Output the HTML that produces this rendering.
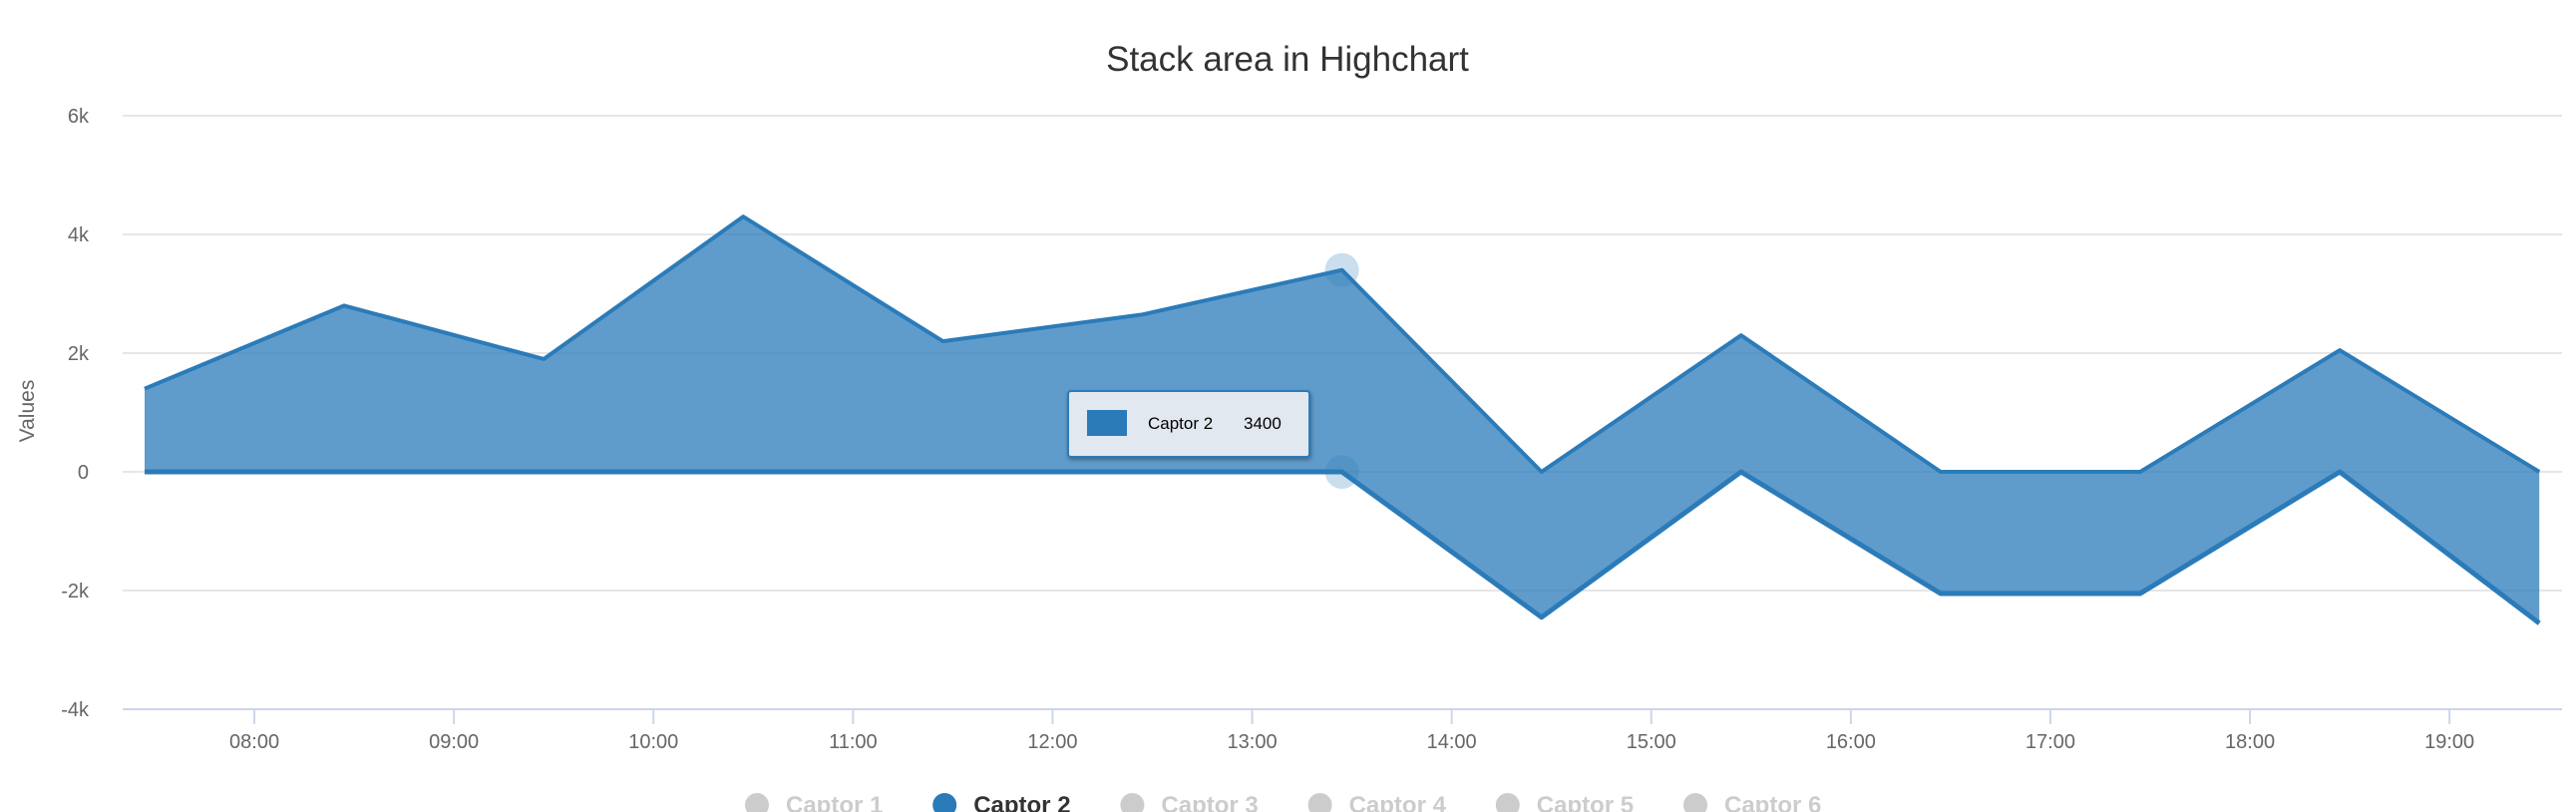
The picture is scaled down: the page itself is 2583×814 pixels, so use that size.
<!DOCTYPE html>
<html><head><meta charset="utf-8"><style>
html,body{margin:0;padding:0;background:#fff;}
svg{display:block;font-family:"Liberation Sans",sans-serif;}
</style></head><body>
<svg id="chart" width="2583" height="814" viewBox="0 0 2583 814">
<text x="1291" y="71" text-anchor="middle" font-size="35" fill="#333">Stack area in Highchart</text>
<g id="grid"></g>
<g id="yticks"></g>
<g id="xticks"></g>
<text transform="translate(34,412) rotate(-90)" text-anchor="middle" font-size="21" fill="#666">Values</text>
<g id="series"></g>
<g id="tooltip">
<rect x="1071" y="392" width="242" height="66" rx="3" fill="#e2e8ef" stroke="#2b7bb9" stroke-width="2" style="filter:drop-shadow(1px 2px 2px rgba(0,0,0,0.35))"/>
<rect x="1090" y="411" width="40" height="26" fill="#2b7bb9"/>
<text x="1151" y="430" font-size="17" fill="#000">Captor 2</text>
<text x="1247" y="430" font-size="17" fill="#000">3400</text>
</g>
<g id="legend"></g>
</svg>
<script>
const categories = [7.45,8.45,9.45,10.45,11.45,12.45,13.45,14.45,15.45,16.45,17.45,18.45,19.45];
const captor2 = [1400,2800,1900,4300,2200,2650,3400,-2450,2300,-2050,-2050,2050,-2550];
const yTicks = [-4000,-2000,0,2000,4000,6000];
const yTickLabels = ["-4k","-2k","0","2k","4k","6k"];
const xTicks = [8,9,10,11,12,13,14,15,16,17,18,19];
const xTickLabels = ["08:00","09:00","10:00","11:00","12:00","13:00","14:00","15:00","16:00","17:00","18:00","19:00"];
const legendNames = ["Captor 1","Captor 2","Captor 3","Captor 4","Captor 5","Captor 6"];
const legendVisible = [false,true,false,false,false,false];
const hoverIndex = 6;

const NS="http://www.w3.org/2000/svg";
const L=123,R=2569;
function xs(h){return 145+(h-7.45)*200.1;}
function ys(v){return 473-v*0.0595;}
function mk(tag,attrs,parent,text){const e=document.createElementNS(NS,tag);for(const k in attrs)e.setAttribute(k,attrs[k]);if(text!==undefined)e.textContent=text;parent.appendChild(e);return e;}

const grid=document.getElementById('grid'),yt=document.getElementById('yticks'),xt=document.getElementById('xticks');
yTicks.forEach((v,i)=>{
  if(v!==-4000){const g=mk('line',{x1:L,x2:R,y1:ys(v),y2:ys(v),stroke:'#e6e6e6','stroke-width':2},grid);
  
  }
  const t=mk('text',{x:89,y:ys(v)+7,'text-anchor':'end','font-size':20,fill:'#666'},yt,yTickLabels[i]);
  
  
});
const ax=mk('line',{x1:L,x2:R,y1:ys(-4000),y2:ys(-4000),stroke:'#ccd6eb','stroke-width':2},xt);


xTicks.forEach((h,i)=>{
  const tk=mk('line',{x1:xs(h),x2:xs(h),y1:ys(-4000),y2:ys(-4000)+15,stroke:'#ccd6eb','stroke-width':2},xt);
  
  
  const t=mk('text',{x:xs(h),y:750,'text-anchor':'middle','font-size':20,fill:'#666'},xt,xTickLabels[i]);
  
  
});

const s=document.getElementById('series');
const upperVals=captor2.map(v=>Math.max(v,0)), lowerVals=captor2.map(v=>Math.min(v,0));
const upPts=categories.map((h,i)=>xs(h)+','+ys(upperVals[i]));
const loPts=categories.map((h,i)=>xs(h)+','+ys(lowerVals[i]));
const area=mk('polygon',{points:upPts.concat(loPts.slice().reverse()).join(' '),fill:'#2b7bb9','fill-opacity':0.75},s);


const l1=mk('polyline',{points:upPts.join(' '),fill:'none',stroke:'#2b7bb9','stroke-width':4,'stroke-linejoin':'round'},s);


const l2=mk('polyline',{points:loPts.join(' '),fill:'none',stroke:'#2b7bb9','stroke-width':5,'stroke-linejoin':'round'},s);


[upperVals[hoverIndex],lowerVals[hoverIndex]].forEach(v=>{
  const c=mk('circle',{cx:xs(categories[hoverIndex]),cy:ys(v),r:17,fill:'#2b7bb9','fill-opacity':0.25},s);
  
  
});

const lg=document.getElementById('legend');
legendNames.forEach((n,i)=>{
  const x=759+i*188.2;
  const g=mk('g',{},lg);
  
  
  mk('circle',{cx:x,cy:807,r:12,fill:legendVisible[i]?'#2b7bb9':'#cccccc'},g);
  mk('text',{x:x+29,y:815,'font-size':24,'font-weight':'bold',fill:legendVisible[i]?'#333':'#cccccc'},g,n);
});
</script>
</body></html>
